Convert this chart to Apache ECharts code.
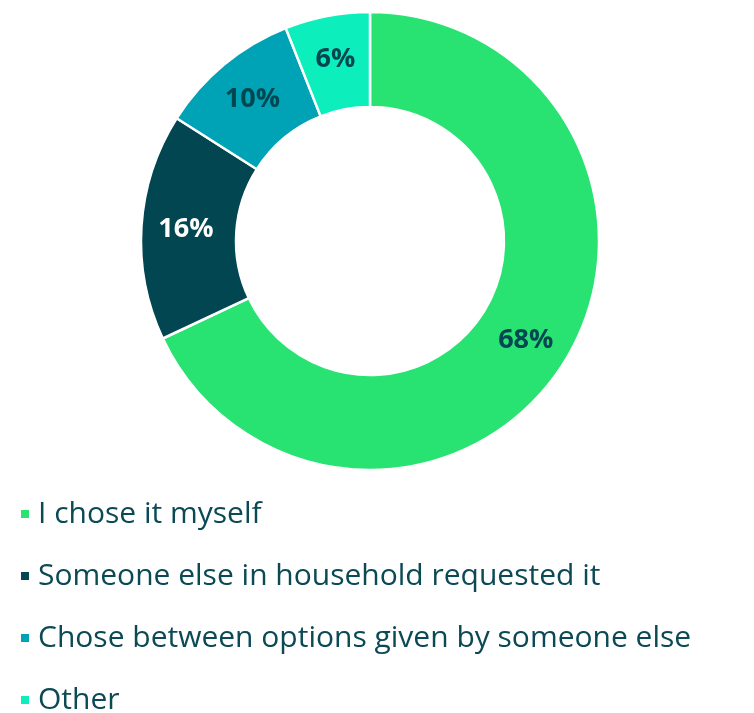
<!DOCTYPE html>
<html><head><meta charset="utf-8">
<script src="https://cdn.jsdelivr.net/npm/echarts@6/dist/echarts.min.js"></script>
<style>html,body{margin:0;padding:0;background:#fff}#c{width:754px;height:713px}</style>
</head><body><div id="c"></div>
<script>
const categories = ["I chose it myself","Someone else in household requested it","Chose between options given by someone else","Other"];
const values = [68,16,10,6];
const colors = ["#28E272","#014651","#00A3B5","#0CEFBD"];
const labelColors = ["#014651","#FFFFFF","#014651","#014651"];
const chart = echarts.init(document.getElementById('c'));
chart.setOption({
  animation:false,
  legend:{
    orient:'vertical', left:14, top:494, height:230,
    icon:'rect', itemWidth:10, itemHeight:10, itemGap:32,
    textStyle:{fontFamily:'Open Sans', fontSize:30, color:'#0B4A55', padding:[0,0,0,3]},
    data:categories
  },
  series:[{
    type:'pie', center:[370,241], radius:[134,229], startAngle:90, clockwise:true,
    itemStyle:{borderColor:'#fff', borderWidth:2.5},
    label:{position:'inside', fontFamily:'Open Sans', fontWeight:'bold', fontSize:27,
      formatter:p=>p.value+'%'},
    labelLine:{show:false},
    data:categories.map((c,i)=>({name:c,value:values[i],itemStyle:{color:colors[i]},label:{color:labelColors[i]}}))
  }]
});
</script></body></html>
